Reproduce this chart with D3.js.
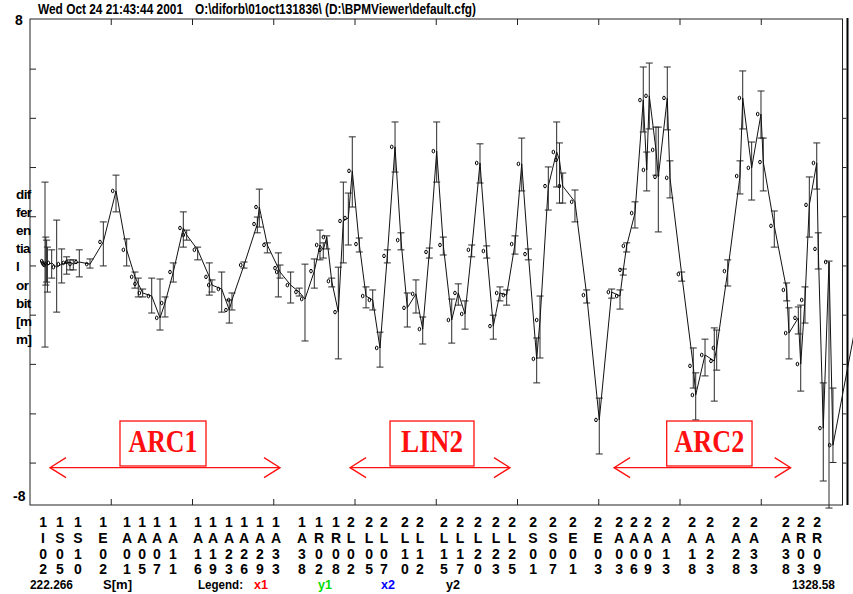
<!DOCTYPE html>
<html><head><meta charset="utf-8">
<script src="https://cdn.jsdelivr.net/npm/d3@7"></script>
<style>
html,body{margin:0;padding:0;background:#fff;}
text{font-family:"Liberation Sans",Arial,sans-serif;font-weight:bold;}
text.serif{font-family:"Liberation Serif","Times New Roman",serif;font-weight:bold;}
</style></head>
<body><svg id="c" width="853" height="594"></svg>
<script>
// ---- data ----
const S = [242.7,243.8,244.9,246.0,251.8,258.6,265.4,272.2,276.7,281.2,289.4,304.0,322.1,339.4,353.9,365.2,369.7,375.7,388.0,399.3,406.1,417.4,431.0,435.6,450.6,466.4,470.1,483.3,493.6,497.3,513.7,531.8,534.5,545.4,560.4,562.7,577.2,588.9,596.7,609.4,617.1,621.6,626.3,633.1,642.1,648.9,655.7,661.1,670.6,679.8,688.9,698.8,708.8,719.3,727.4,736.0,747.8,757.0,766.0,776.0,785.0,796.5,805.4,814.6,823.7,835.0,844.1,853.1,862.2,871.3,882.6,891.8,900.8,912.2,916.7,928.0,939.4,943.2,947.6,964.3,980.3,997.4,1014.3,1025.6,1030.1,1034.7,1046.0,1057.3,1062.0,1065.5,1074.6,1077.8,1090.0,1093.7,1109.6,1125.4,1128.7,1141.4,1154.0,1157.3,1172.3,1189.0,1192.7,1204.9,1217.6,1220.7,1235.7,1252.6,1255.7,1268.4,1271.7,1277.5,1283.4,1293.5,1295.6,1302.4,1310.2,1315.6,1366.0];
const V = [0.03,-0.03,-0.07,-0.10,-0.03,-0.17,-0.07,-0.03,0.00,-0.07,0.00,-0.07,0.66,2.34,0.40,-0.49,-0.72,-1.02,-1.12,-1.84,-1.35,-0.33,1.12,0.89,0.40,-0.49,-0.76,-0.89,-1.58,-1.25,-0.10,1.25,1.81,0.56,-0.20,-0.33,-0.76,-0.99,-1.22,-0.30,0.56,0.40,0.82,-0.63,-1.65,1.35,1.45,3.00,0.59,-1.12,-1.25,-2.83,0.20,3.79,0.72,-1.51,-1.05,-2.21,0.33,3.65,0.56,-1.91,-1.02,-1.71,0.40,3.26,0.36,-2.11,-1.02,-1.09,0.59,3.23,0.26,-3.19,-1.91,2.50,3.62,3.36,2.50,1.98,-1.09,-5.20,-0.99,-1.12,-0.26,0.53,1.61,5.33,3.03,5.47,3.69,2.80,5.40,2.77,-0.40,-3.42,-4.38,-3.06,-3.26,-2.83,-0.30,2.83,5.40,3.10,4.87,3.29,1.19,-0.92,-2.34,-1.84,-3.36,-1.25,1.88,3.26,0.43,-5.47,0.00,-6.03,0.40];
const HI = [2.63,0.82,0.72,0.49,0.40,1.38,0.43,0.17,0.07,0.07,0.40,0.10,1.32,2.86,0.76,-0.33,-0.53,-0.89,-0.53,-0.56,-1.15,-0.03,1.65,1.05,0.49,-0.03,-0.59,-0.33,-1.25,-1.02,0.00,1.48,2.40,0.63,0.30,-0.10,-0.33,-0.86,-0.07,0.10,1.05,0.63,0.86,-0.53,-0.17,2.63,2.27,4.12,0.79,-0.82,-0.92,-2.31,0.40,4.61,0.96,-1.02,-0.59,-1.81,0.46,4.61,0.82,-1.22,-0.72,-1.28,0.56,3.89,0.53,-1.75,-0.82,-0.92,0.86,4.08,0.43,-2.50,-1.12,3.13,4.61,3.92,2.93,2.37,-0.92,-4.48,-0.89,-0.92,-0.23,0.63,1.98,6.42,3.62,6.55,4.44,4.44,6.42,3.33,-0.33,-2.83,-3.65,-2.54,-2.17,-2.24,0.07,3.33,6.29,3.95,5.63,4.08,1.68,-0.69,-1.51,-1.48,-1.42,-0.82,2.80,3.92,0.96,-3.98,0.03,-4.15,null];
const LO = [-2.80,-0.76,-0.66,-0.99,-0.53,-1.65,-0.69,-0.40,-0.26,-0.26,-0.49,-0.20,-0.13,1.65,-0.13,-0.86,-1.15,-1.15,-1.68,-2.24,-1.81,-0.66,0.49,0.72,0.07,-1.09,-0.99,-1.65,-2.01,-1.58,-0.20,0.96,1.15,0.30,-1.15,-0.53,-1.35,-1.12,-2.60,-0.86,0.07,0.13,0.43,-0.82,-3.19,-0.03,0.56,1.81,0.33,-1.51,-1.58,-3.46,-0.03,2.96,0.40,-2.14,-1.68,-2.70,0.13,2.63,0.23,-2.67,-1.42,-2.21,0.17,2.60,0.13,-2.54,-1.28,-1.42,0.26,2.34,0.07,-3.98,-3.16,1.71,2.47,1.94,1.94,1.32,-1.35,-6.32,-1.19,-1.55,-0.43,0.33,1.12,4.28,2.34,4.38,2.86,0.99,4.35,2.11,-0.63,-4.15,-5.20,-3.75,-4.58,-3.56,-0.79,2.24,4.38,2.04,4.08,2.34,0.49,-1.28,-3.19,-2.37,-4.25,-2.01,0.82,2.40,-0.23,-7.21,-8.10,-6.60,null];

const bpmNames = ["1I02","1S05","1S10","1E02","1A01","1A05","1A07","1A11","1A16","1A19","1A23","1A26","1A29","1A33","1A38","1R02","1R08","2L02","2L05","2L07","2L10","2L12","2L15","2L17","2L20","2L23","2L25","2S01","2S07","2E01","2E03","2A03","2A06","2A09","2A13","2A18","2A23","2A28","2A33","2A38","2R03","2R09"];
const bpmS = [240.0,263.1,287.6,321.7,354.3,374.8,395.2,417.0,451.0,471.4,493.2,513.7,535.4,557.2,592.6,615.8,638.9,659.3,683.9,704.3,732.9,753.3,786.0,807.8,832.3,856.8,878.6,907.2,934.4,961.6,995.7,1024.3,1044.7,1063.7,1088.3,1123.7,1148.2,1183.6,1208.1,1251.6,1272.1,1293.9];

const sMin = 222.266, sMax = 1328.58;
const yTicks = [6.35,4.73,3.11,1.49,-0.13,-1.75,-3.37,-5.00,-6.62];
const yLabelTop = "8", yLabelBottom = "-8";
const yTitle = ["dif","fer","en","tia","l","or","bit","[m","m]"];
const header1 = "Wed Oct 24 21:43:44 2001";
const header2 = "O:\\diforb\\01oct131836\\ (D:\\BPMViewer\\default.cfg)";
const legendNames = ["x1","y1","x2","y2"];
const legendColors = ["#ff0000","#00dd00","#0000ff","#000000"];

const sections = ["ARC1","LIN2","ARC2"];
const sectionFrom = [249.5,658.0,1017.5];
const sectionTo = [562.7,875.8,1258.0];
const boxFrom = [344.8,712.5,1089.2];
const boxTo = [461.9,826.8,1205.4];

// ---- chart ----
const svg = d3.select("#c");
const L = 30, R = 842.5, T = 19, B = 505;
const x = d3.scaleLinear().domain([sMin, sMax]).range([L, R]);
const y = d3.scaleLinear().domain([-8, 8]).range([B, T]);
const ink = "#222";

svg.append("rect").attr("x", L).attr("y", T).attr("width", R - L).attr("height", B - T)
  .attr("fill", "none").attr("stroke", ink).attr("stroke-width", 1);
svg.append("line").attr("x1", 847.5).attr("x2", 847.5).attr("y1", T - 1).attr("y2", B)
  .attr("stroke", "#000").attr("stroke-width", 2);

const xt = d3.range(1, 10).map(i => sMin + i * (sMax - sMin) / 10);
svg.append("g").selectAll("line").data(xt).join("line")
  .attr("x1", d => x(d)).attr("x2", d => x(d)).attr("y1", T).attr("y2", T + 6).attr("stroke", ink);
svg.append("g").selectAll("line").data(xt).join("line")
  .attr("x1", d => x(d)).attr("x2", d => x(d)).attr("y1", B).attr("y2", B - 6).attr("stroke", ink);
svg.append("g").selectAll("line").data(yTicks).join("line")
  .attr("x1", L).attr("x2", L + 6).attr("y1", d => y(d)).attr("y2", d => y(d)).attr("stroke", ink);
svg.append("g").selectAll("line").data(yTicks).join("line")
  .attr("x1", R).attr("x2", R + 4).attr("y1", d => y(d)).attr("y2", d => y(d)).attr("stroke", ink);

svg.append("text").attr("x", 38).attr("y", 13.5).attr("font-size", 14)
  .attr("textLength", 145).attr("lengthAdjust", "spacingAndGlyphs").text(header1);
svg.append("text").attr("x", 195).attr("y", 13.5).attr("font-size", 14)
  .attr("textLength", 281).attr("lengthAdjust", "spacingAndGlyphs").text(header2);

svg.append("text").attr("x", 15).attr("y", 24.5).attr("font-size", 14).text(yLabelTop);
svg.append("text").attr("x", 13).attr("y", 501).attr("font-size", 14).text(yLabelBottom);
svg.append("g").selectAll("text").data(yTitle).join("text")
  .attr("x", 16).attr("y", (d, i) => 199 + i * 18.1).attr("font-size", 13.5)
  .attr("letter-spacing", -0.6).text(d => d);

const pts = S.map((s, i) => ({ s, v: V[i], hi: HI[i], lo: LO[i] }));
const bars = pts.filter(d => d.hi !== null);
const gb = svg.append("g").attr("stroke", "#2a2a2a").attr("stroke-width", 1);
gb.selectAll("line.v").data(bars).join("line").attr("class", "v")
  .attr("x1", d => x(d.s)).attr("x2", d => x(d.s)).attr("y1", d => y(d.hi)).attr("y2", d => y(d.lo));
gb.selectAll("line.t").data(bars).join("line").attr("class", "t")
  .attr("x1", d => x(d.s) - 3.5).attr("x2", d => x(d.s) + 3.5).attr("y1", d => y(d.hi)).attr("y2", d => y(d.hi));
gb.selectAll("line.b").data(bars).join("line").attr("class", "b")
  .attr("x1", d => x(d.s) - 3.5).attr("x2", d => x(d.s) + 3.5).attr("y1", d => y(d.lo)).attr("y2", d => y(d.lo));

svg.append("path").datum(pts)
  .attr("d", d3.line().x(d => x(d.s)).y(d => y(d.v)))
  .attr("fill", "none").attr("stroke", "#111").attr("stroke-width", 1);

svg.append("g").selectAll("ellipse").data(bars).join("ellipse")
  .attr("cx", d => x(d.s) - 3.3).attr("cy", d => y(d.v)).attr("rx", 1.3).attr("ry", 1.8)
  .attr("fill", "none").attr("stroke", "#000").attr("stroke-width", 1);

const red = "#ff1010";
const textLen = [69, 62, 70];
const ga = svg.append("g");
sections.forEach((name, i) => {
  const ay = y(-6.77);
  const x0 = x(sectionFrom[i]), x1 = x(sectionTo[i]);
  ga.append("line").attr("x1", x0).attr("x2", x1).attr("y1", ay).attr("y2", ay)
    .attr("stroke", red).attr("stroke-width", 1.3);
  ga.append("path").attr("d", `M${x0 + 16},${ay - 10}L${x0},${ay}L${x0 + 16},${ay + 10}`)
    .attr("fill", "none").attr("stroke", red).attr("stroke-width", 1.3);
  ga.append("path").attr("d", `M${x1 - 16},${ay - 10}L${x1},${ay}L${x1 - 16},${ay + 10}`)
    .attr("fill", "none").attr("stroke", red).attr("stroke-width", 1.3);
  const bx0 = x(boxFrom[i]), bx1 = x(boxTo[i]);
  ga.append("rect").attr("x", bx0).attr("y", y(-5.235)).attr("width", bx1 - bx0)
    .attr("height", y(-6.716) - y(-5.235)).attr("fill", "#fff").attr("stroke", red).attr("stroke-width", 1.3);
  ga.append("text").attr("class", "serif").attr("x", (bx0 + bx1) / 2).attr("y", 452).attr("text-anchor", "middle")
    .attr("font-size", 32).attr("fill", red)
    .attr("textLength", textLen[i]).attr("lengthAdjust", "spacingAndGlyphs").text(name);
});

const rowsY = [527, 542.5, 558.5, 574];
const gl = svg.append("g").attr("font-size", 14).attr("text-anchor", "middle");
bpmNames.forEach((n, i) => {
  n.split("").forEach((ch, k) => {
    gl.append("text").attr("x", x(bpmS[i])).attr("y", rowsY[k]).text(ch);
  });
});

const bottom = svg.append("g").attr("font-size", 13.5);
bottom.append("text").attr("x", 30).attr("y", 589).attr("textLength", 43).attr("lengthAdjust", "spacingAndGlyphs").text(sMin.toString());
bottom.append("text").attr("x", 103).attr("y", 589).attr("textLength", 29).attr("lengthAdjust", "spacingAndGlyphs").text("S[m]");
bottom.append("text").attr("x", 198).attr("y", 589).attr("textLength", 45).attr("lengthAdjust", "spacingAndGlyphs").text("Legend:");
const legX = [254, 318, 381, 446];
legendNames.forEach((n, i) => {
  bottom.append("text").attr("x", legX[i]).attr("y", 589).attr("fill", legendColors[i])
    .attr("textLength", 14).attr("lengthAdjust", "spacingAndGlyphs").text(n);
});
bottom.append("text").attr("x", 792).attr("y", 589).attr("textLength", 43).attr("lengthAdjust", "spacingAndGlyphs").text(sMax.toString());
</script></body></html>
